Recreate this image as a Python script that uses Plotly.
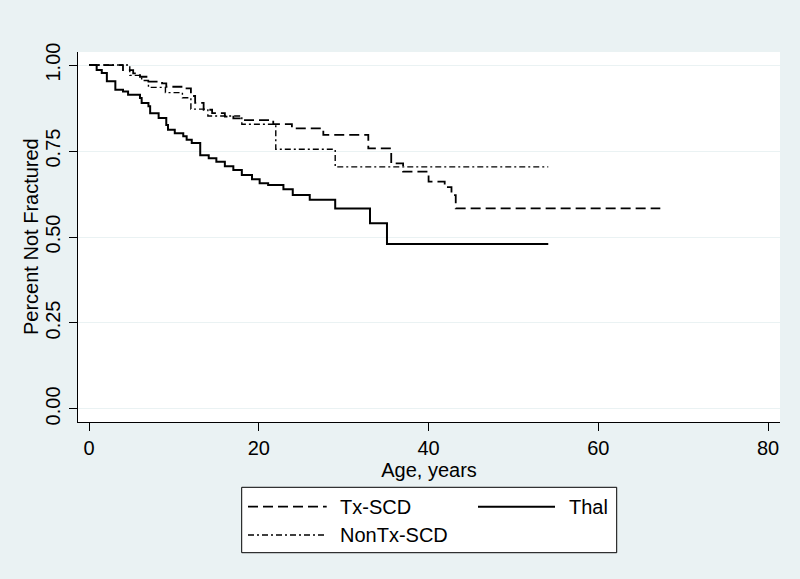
import plotly.graph_objects as go

# ---- data ----
tx_age = [0, 4.0, 5.2, 6.0, 7.0, 8.6, 9.1, 11.2, 12.0, 12.5, 13.5, 14.5, 16.0, 17.0, 18.1,
          21.7, 23.9, 27.6, 32.9, 35.6, 37.0, 40.0, 41.9, 42.7, 43.2, 67.3]
tx_surv = [1.0, 0.985, 0.976, 0.966, 0.952, 0.947, 0.937, 0.932, 0.91, 0.89, 0.87, 0.86, 0.85, 0.845, 0.84,
           0.828, 0.816, 0.797, 0.758, 0.714, 0.69, 0.661, 0.645, 0.622, 0.583, 0.583]

nontx_age = [0, 4.8, 6.2, 7.0, 9.0, 11.0, 12.0, 14.0, 18.0, 22.0, 29.0, 54.1]
nontx_surv = [1.0, 0.97, 0.955, 0.935, 0.92, 0.905, 0.872, 0.852, 0.828, 0.755, 0.704, 0.704]

thal_age = [0, 0.9, 1.5, 2.1, 3.1, 4.0, 4.6, 6.0, 6.2, 7.0, 7.2, 8.2, 9.1, 9.3, 10.1, 11.1, 11.5, 12.1,
            13.1, 14.1, 15.0, 16.0, 17.0, 18.0, 19.2, 20.1, 21.1, 22.9, 24.0, 26.0, 29.0, 33.1, 35.1, 54.1]
thal_surv = [1.0, 0.986, 0.977, 0.953, 0.928, 0.923, 0.914, 0.904, 0.89, 0.88, 0.86, 0.846, 0.826, 0.812,
             0.802, 0.793, 0.783, 0.773, 0.738, 0.729, 0.719, 0.706, 0.695, 0.68, 0.668, 0.656, 0.651,
             0.639, 0.622, 0.608, 0.583, 0.54, 0.48, 0.48]

x_ticks = [0, 20, 40, 60, 80]
y_ticks = [0.0, 0.25, 0.5, 0.75, 1.0]
y_tick_labels = ["0.00", "0.25", "0.50", "0.75", "1.00"]

series_names = ["Tx-SCD", "NonTx-SCD", "Thal"]
x_title = "Age, years"
y_title = "Percent Not Fractured"

# ---- layout constants (pixels) ----
W, H = 800, 579
L, R, T, B = 78, 780, 52, 422
BG = "#EAF2F3"
FONT = "Liberation Sans, Arial, sans-serif"

DASH_TX = "10px,5px"
DASH_NONTX = "6px,3px,2px,3px"


def px2paper(px, py):
    return (px - L) / (R - L), (B - py) / (B - T)


fig = go.Figure()
fig.add_trace(go.Scatter(x=tx_age, y=tx_surv, mode="lines", line_shape="hv", name=series_names[0],
                         line=dict(color="black", width=1.8, dash=DASH_TX), showlegend=False))
fig.add_trace(go.Scatter(x=nontx_age, y=nontx_surv, mode="lines", line_shape="hv", name=series_names[1],
                         line=dict(color="black", width=1.4, dash=DASH_NONTX), showlegend=False))
fig.add_trace(go.Scatter(x=thal_age, y=thal_surv, mode="lines", line_shape="hv", name=series_names[2],
                         line=dict(color="black", width=2), showlegend=False))

# ---- manual legend ----
shapes = []
annotations = []
bx0, by0 = px2paper(241.7, 552.7)
bx1, by1 = px2paper(616.7, 487.3)
shapes.append(dict(type="rect", xref="paper", yref="paper", x0=bx0, y0=by0, x1=bx1, y1=by1,
                   fillcolor="white", line=dict(color="black", width=1), layer="above"))

legend_items = [
    (series_names[0], 248, 326.7, 338.3, 506.7, dict(color="black", width=1.8, dash=DASH_TX)),
    (series_names[2], 478, 555, 566.7, 506.7, dict(color="black", width=2)),
    (series_names[1], 248, 326.7, 338.3, 535, dict(color="black", width=1.4, dash=DASH_NONTX)),
]
for name, lx0, lx1, tx, ty, ln in legend_items:
    x0, yy = px2paper(lx0, ty)
    x1, _ = px2paper(lx1, ty)
    shapes.append(dict(type="line", xref="paper", yref="paper", x0=x0, x1=x1, y0=yy, y1=yy,
                       line=ln, layer="above"))
    ax, ay = px2paper(tx, ty)
    annotations.append(dict(xref="paper", yref="paper", x=ax, y=ay, text=name, showarrow=False,
                            xanchor="left", yanchor="middle", font=dict(family=FONT, size=20, color="black")))

# y-axis title placed as rotated text
tx_, ty_ = px2paper(31, 237)
annotations.append(dict(xref="paper", yref="paper", x=tx_, y=ty_, text=y_title, showarrow=False,
                        textangle=-90, xanchor="center", yanchor="middle",
                        font=dict(family=FONT, size=20, color="black")))

fig.update_layout(
    width=W, height=H,
    margin=dict(l=L, r=W - R, t=T, b=H - B, pad=0),
    paper_bgcolor=BG, plot_bgcolor="white",
    font=dict(family=FONT, size=18, color="black"),
    shapes=shapes, annotations=annotations,
    showlegend=False,
)
fig.update_xaxes(range=[-1.3, 81.4], tickvals=x_ticks, ticks="outside", ticklen=8, tickcolor="black",
                 showline=True, linecolor="black", linewidth=1, mirror=False, showgrid=False, zeroline=False,
                 tickfont=dict(size=20), title=dict(text=x_title, font=dict(size=20), standoff=0))
fig.update_yaxes(range=[-0.038, 1.038], tickvals=y_ticks, ticktext=y_tick_labels, tickangle=-90,
                 ticks="outside", ticklen=8, tickcolor="black", ticklabelstandoff=1,
                 showline=True, linecolor="black", linewidth=1, mirror=False,
                 showgrid=True, gridcolor=BG, gridwidth=1, zeroline=False,
                 tickfont=dict(size=20))

fig.write_html("out.html", config={"displayModeBar": False},
               post_script="document.body.style.margin='0';document.body.style.background='%s';" % BG)
